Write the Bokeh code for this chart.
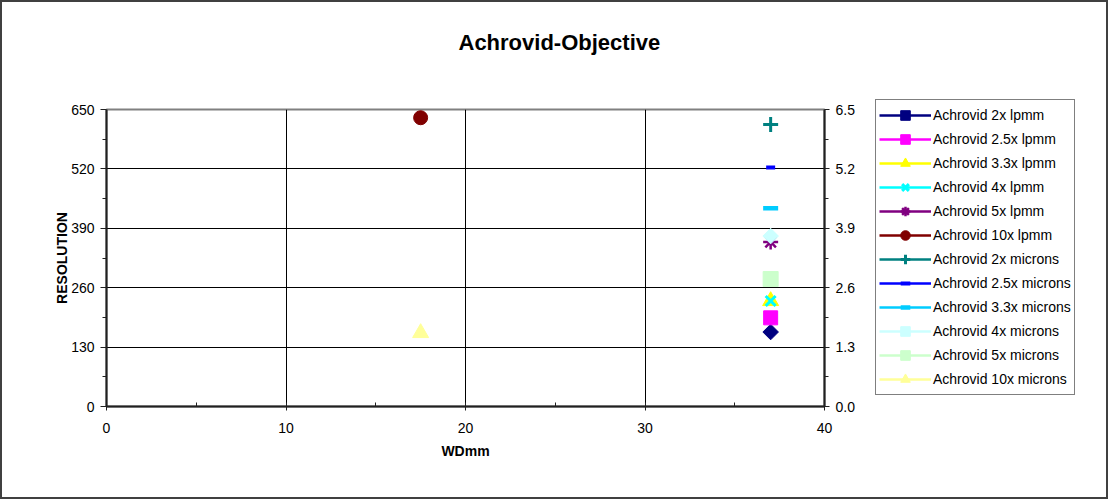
import math
from bokeh.plotting import figure
from bokeh.layouts import row
from bokeh.models import (Range1d, LinearAxis, FixedTicker, NumeralTickFormatter,
                          Legend, LegendItem, ColumnDataSource)
from bokeh.embed import file_html
from bokeh.resources import INLINE

# ---- data ----
series_names = ["Achrovid 2x lpmm", "Achrovid 2.5x lpmm", "Achrovid 3.3x lpmm",
                "Achrovid 4x lpmm", "Achrovid 5x lpmm", "Achrovid 10x lpmm",
                "Achrovid 2x microns", "Achrovid 2.5x microns", "Achrovid 3.3x microns",
                "Achrovid 4x microns", "Achrovid 5x microns", "Achrovid 10x microns"]
wd_mm = [37, 37, 37, 37, 37, 17.5, 37, 37, 37, 37, 37, 17.5]
lpmm_values = [163, 194, 231, 231, 360, 632]
micron_values = [6.17, 5.23, 4.34, 3.73, 2.79, 1.61]
left_ticks = [0, 130, 260, 390, 520, 650]
right_ticks = [0.0, 1.3, 2.6, 3.9, 5.2, 6.5]
x_ticks = [0, 10, 20, 30, 40]

values = lpmm_values + micron_values
axis_of = ["default"] * 6 + ["right"] * 6

D45 = math.pi / 4
styles = [
    dict(marker="square", color="#000080", size=11, lw=1, angle=D45),
    dict(marker="square", color="#FF00FF", size=14, lw=1, angle=0),
    dict(marker="triangle", color="#FFFF00", size=16, lw=1, angle=0),
    dict(marker="x", color="#00FFFF", size=14, lw=3, angle=0),
    dict(marker="asterisk", color="#800080", size=15, lw=2.5, angle=0),
    dict(marker="circle", color="#800000", size=14, lw=1, angle=0),
    dict(marker="cross", color="#008080", size=15, lw=3, angle=0),
    dict(marker="dash", color="#0000FF", size=9, lw=4, angle=0),
    dict(marker="dash", color="#00CCFF", size=15, lw=4.5, angle=0),
    dict(marker="square", color="#CCFFFF", size=11, lw=1, angle=D45),
    dict(marker="square", color="#CCFFCC", size=15, lw=1, angle=0),
    dict(marker="triangle", color="#FFFF99", size=16, lw=1, angle=0),
]

FONT = "Liberation Sans"
TOTAL_H = 495

p = figure(frame_width=718, frame_height=297,
           min_border_left=104, min_border_right=50,
           min_border_top=107, min_border_bottom=TOTAL_H - 107 - 297,
           x_range=Range1d(0, 40), y_range=Range1d(0, 650),
           output_backend="svg", toolbar_location=None,
           background_fill_color="white", border_fill_color="white")
p.extra_y_ranges = {"right": Range1d(0, 6.5)}

p.title.text = "Achrovid-Objective\n\n"
p.title.text_font = FONT
p.title.text_font_size = "22px"
p.title.text_font_style = "bold"
p.title.text_color = "black"
p.title.align = "left"
p.title.offset = 352
p.title.standoff = 10

p.outline_line_color = "#808080"
p.outline_line_width = 2

# axes
xa = p.xaxis[0]
xa.ticker = FixedTicker(ticks=x_ticks, minor_ticks=[5, 15, 25, 35])
ya = p.yaxis[0]
ya.ticker = FixedTicker(ticks=left_ticks, minor_ticks=[65, 195, 325, 455, 585])
ra = LinearAxis(y_range_name="right",
                ticker=FixedTicker(ticks=right_ticks, minor_ticks=[0.65, 1.95, 3.25, 4.55, 5.85]),
                formatter=NumeralTickFormatter(format="0.0"))
p.add_layout(ra, "right")

for ax in (xa, ya, ra):
    ax.axis_line_color = "#202020"
    ax.axis_line_width = 2
    ax.major_tick_line_color = "#202020"
    ax.minor_tick_line_color = "#202020"
    ax.major_tick_out = 6
    ax.major_tick_in = 0
    ax.minor_tick_out = 4
    ax.minor_tick_in = 0
    ax.major_label_text_font = FONT
    ax.major_label_text_font_size = "14px"
    ax.major_label_text_color = "black"
    ax.major_label_standoff = 6
    ax.axis_label_text_font = FONT
    ax.axis_label_text_font_size = "14px"
    ax.axis_label_text_font_style = "bold"
    ax.axis_label_text_color = "black"

xa.major_tick_out = 4
xa.major_tick_in = 4
xa.minor_tick_in = 4
xa.minor_tick_out = 0
xa.major_label_standoff = 12
xa.axis_label = "WDmm"
xa.axis_label_standoff = 7
ya.axis_label = "RESOLUTION"
ya.axis_label_standoff = -2
ra.major_tick_out = 5

p.xgrid.ticker = FixedTicker(ticks=x_ticks)
p.ygrid.ticker = FixedTicker(ticks=left_ticks)
p.xgrid.grid_line_color = "black"
p.ygrid.grid_line_color = "black"
p.xgrid.grid_line_width = 1
p.ygrid.grid_line_width = 1

# legend panel as its own figure (same sources, view range away from the points)
lf = figure(width=232, height=TOTAL_H, min_border=0,
            x_range=Range1d(1000, 1001), y_range=Range1d(1000, 1001),
            x_axis_location=None, y_axis_location=None,
            output_backend="svg", toolbar_location=None,
            background_fill_color="white", border_fill_color="white")
lf.min_border_left = 0
lf.min_border_right = 0
lf.min_border_top = 0
lf.min_border_bottom = 0
lf.frame_align = False
lf.outline_line_color = None
lf.grid.visible = False

items = []
for i, name in enumerate(series_names):
    st = styles[i]
    src = ColumnDataSource(dict(x=[wd_mm[i]], y=[values[i]]))
    p.line("x", "y", source=src, line_color=st["color"], line_width=2.5,
           y_range_name=axis_of[i])
    p.scatter("x", "y", source=src, marker=st["marker"], size=st["size"],
              angle=st["angle"], fill_color=st["color"], line_color=st["color"],
              line_width=st["lw"], y_range_name=axis_of[i])
    ln = lf.line("x", "y", source=src, line_color=st["color"], line_width=2.5)
    sc = lf.scatter("x", "y", source=src, marker=st["marker"], size=st["size"],
                    angle=st["angle"], fill_color=st["color"], line_color=st["color"],
                    line_width=st["lw"])
    items.append(LegendItem(label=name, renderers=[ln, sc]))

legend = Legend(items=items, location=(1, 102),
                label_text_font=FONT, label_text_font_size="14px",
                label_text_color="black",
                glyph_width=52, glyph_height=24, label_height=20,
                label_standoff=2, spacing=0, padding=3, margin=0,
                border_line_color="black", border_line_width=1,
                background_fill_color="white", background_fill_alpha=1)
lf.add_layout(legend, "center")

layout = row(p, lf)
layout.styles = {"border": "2px solid #404040"}

open("out.html", "w").write(file_html(layout, INLINE))
